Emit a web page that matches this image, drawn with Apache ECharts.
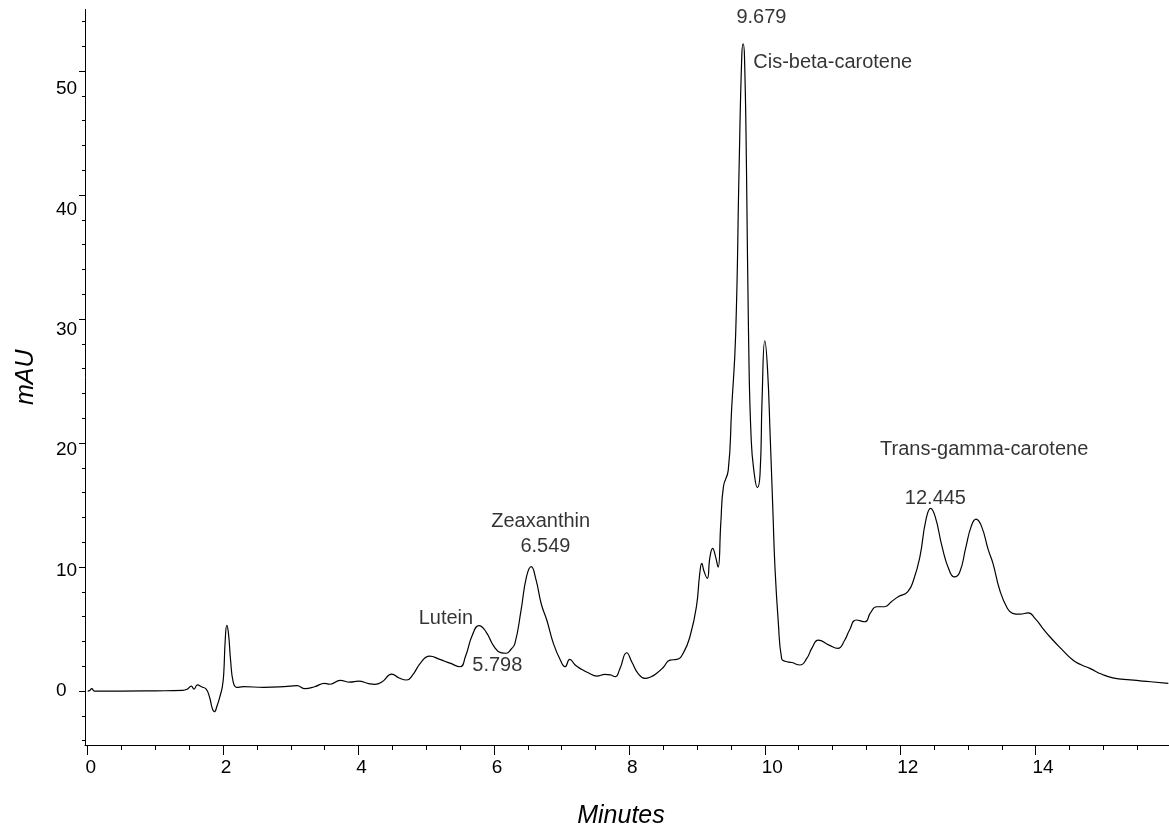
<!DOCTYPE html>
<html>
<head>
<meta charset="utf-8">
<script src="https://cdn.jsdelivr.net/npm/echarts@6/dist/echarts.min.js"></script>
<style>
html,body{margin:0;padding:0;background:#fff;}
#chart{width:1169px;height:832px;}
</style>
</head>
<body>
<div id="chart"></div>
<script>
// Retention time (minutes)
const timeMin = [0, 0.03, 0.06, 0.1, 0.5, 1.0, 1.4, 1.47, 1.53, 1.57, 1.62, 1.68, 1.75, 1.8, 1.84, 1.87, 1.91, 1.96, 1.99, 2.01, 2.03, 2.055, 2.08, 2.11, 2.15, 2.2, 2.3, 2.6, 2.9, 3.09, 3.21, 3.35, 3.5, 3.58, 3.73, 3.87, 4.0, 4.15, 4.24, 4.35, 4.49, 4.6, 4.71, 4.8, 4.92, 5.05, 5.2, 5.35, 5.5, 5.58, 5.68, 5.78, 5.88, 6.0, 6.1, 6.18, 6.25, 6.31, 6.4, 6.48, 6.55, 6.62, 6.7, 6.78, 6.88, 6.98, 7.05, 7.12, 7.2, 7.27, 7.4, 7.52, 7.64, 7.72, 7.79, 7.86, 7.96, 8.04, 8.13, 8.23, 8.32, 8.4, 8.5, 8.6, 8.7, 8.8, 8.9, 8.99, 9.04, 9.07, 9.1, 9.15, 9.19, 9.23, 9.27, 9.31, 9.35, 9.39, 9.46, 9.51, 9.57, 9.62, 9.66, 9.68, 9.7, 9.73, 9.76, 9.8, 9.85, 9.89, 9.93, 9.96, 10.0, 10.04, 10.08, 10.12, 10.15, 10.2, 10.25, 10.3, 10.4, 10.52, 10.62, 10.7, 10.79, 10.95, 11.08, 11.18, 11.25, 11.35, 11.48, 11.56, 11.65, 11.77, 11.87, 11.97, 12.11, 12.2, 12.29, 12.38, 12.45, 12.52, 12.62, 12.72, 12.8, 12.88, 12.97, 13.05, 13.12, 13.2, 13.3, 13.37, 13.47, 13.58, 13.66, 13.77, 13.89, 14.0, 14.1, 14.21, 14.38, 14.55, 14.68, 14.8, 14.98, 15.14, 15.4, 15.7, 15.96];
// Absorbance (mAU)
const absorbance = [0, 0.05, 0.2, 0.0, 0.0, 0.02, 0.05, 0.15, 0.4, 0.15, 0.5, 0.35, 0.15, -0.5, -1.4, -1.67, -1.2, -0.3, 0.4, 1.5, 4.0, 5.3, 4.6, 2.5, 0.7, 0.3, 0.35, 0.3, 0.35, 0.43, 0.2, 0.35, 0.62, 0.55, 0.86, 0.72, 0.8, 0.6, 0.54, 0.75, 1.37, 1.05, 0.89, 1.3, 2.3, 2.82, 2.55, 2.25, 1.96, 2.8, 4.5, 5.27, 4.8, 3.6, 3.1, 3.05, 3.35, 3.85, 6.5, 9.2, 10.03, 9.0, 7.0, 5.73, 3.8, 2.5, 1.96, 2.55, 2.1, 1.83, 1.45, 1.21, 1.34, 1.3, 1.16, 1.8, 3.09, 2.3, 1.4, 1.02, 1.15, 1.42, 1.9, 2.5, 2.55, 3.1, 4.5, 6.8, 9.5, 10.3, 9.7, 9.09, 10.8, 11.5, 10.9, 10.0, 13.5, 16.5, 17.8, 22.7, 28.8, 42, 51.2, 52.2, 51.2, 42, 28.8, 20.2, 17.3, 16.4, 17.5, 23.5, 28.25, 26, 20.5, 14.5, 10.0, 5.5, 2.6, 2.4, 2.3, 2.1, 2.63, 3.5, 4.11, 3.7, 3.44, 4.1, 4.9, 5.73, 5.59, 6.3, 6.8, 6.8, 7.2, 7.6, 8.0, 9.0, 10.8, 13.8, 14.73, 14.0, 11.6, 9.8, 9.2, 9.6, 11.6, 13.3, 13.87, 13.3, 11.4, 10.3, 8.15, 6.7, 6.27, 6.2, 6.3, 5.8, 5.1, 4.38, 3.4, 2.5, 2.1, 1.83, 1.35, 1.07, 0.9, 0.75, 0.62];

// Tick values
const xTickValues = [0, 2, 4, 6, 8, 10, 12, 14];
const xMinorTickValues = [0.5, 1, 1.5, 2.5, 3, 3.5, 4.5, 5, 5.5, 6.5, 7, 7.5, 8.5, 9, 9.5, 10.5, 11, 11.5, 12.5, 13, 13.5, 14.5, 15, 15.5];
const yTickValues = [0, 10, 20, 30, 40, 50];
const yMinorTickValues = [-4, -2, 2, 4, 6, 8, 12, 14, 16, 18, 22, 24, 26, 28, 32, 34, 36, 38, 42, 44, 46, 48, 52, 54];

// Peak annotations (text, anchor in data units)
const annoText = ['9.679', 'Cis-beta-carotene', 'Zeaxanthin', '6.549', 'Lutein', '5.798', 'Trans-gamma-carotene', '12.445'];
const annoX = [9.95, 9.83, 6.69, 6.76, 5.29, 6.05, 13.24, 12.52];
const annoY = [54.35, 50.65, 13.65, 11.64, 5.89, 2.04, 19.44, 15.56];
const annoAlign = ['center', 'left', 'center', 'center', 'center', 'center', 'center', 'center'];

const FONT = "'Liberation Sans', Arial, Helvetica, sans-serif";
const X_MIN = -0.04, X_MAX = 15.97;
const Y_MIN = -4.35, Y_MAX = 54.96;

const chart = echarts.init(document.getElementById('chart'), null, {renderer: 'canvas'});

const lineData = timeMin.map((t, i) => [t, absorbance[i]]);
const annoData = annoText.map((s, i) => ({
  value: [annoX[i], annoY[i]],
  label: {formatter: s, align: annoAlign[i]}
}));

const option = {
  animation: false,
  backgroundColor: '#fff',
  grid: {left: 85, right: 0, top: 9.5, bottom: 87, containLabel: false, outerBoundsMode: 'none'},
  xAxis: [
    {
      type: 'value', min: X_MIN, max: X_MAX, position: 'bottom',
      name: 'Minutes', nameLocation: 'middle', nameGap: 59,
      nameTextStyle: {fontFamily: FONT, fontSize: 25, fontStyle: 'italic', color: '#000', padding: [0, 12, 0, 0]},
      axisLine: {show: true, onZero: false, lineStyle: {color: '#000', width: 1}},
      axisTick: {show: true, customValues: xTickValues, length: 10, lineStyle: {color: '#000', width: 1}},
      axisLabel: {
        show: true, customValues: xTickValues, margin: 13,
        fontFamily: FONT, fontSize: 19, color: '#000',
        formatter: function (v) { return (v >= 10 ? '{b|' : '{a|') + v + '}'; },
        rich: {
          a: {fontFamily: FONT, fontSize: 19, color: '#000', padding: [0, 0, 0, 6]},
          b: {fontFamily: FONT, fontSize: 19, color: '#000', padding: [0, 0, 0, 15]}
        }
      },
      splitLine: {show: false}
    },
    {
      type: 'value', min: X_MIN, max: X_MAX, position: 'bottom', offset: 0,
      axisLine: {show: false, onZero: false},
      axisTick: {show: true, customValues: xMinorTickValues, length: 5, lineStyle: {color: '#000', width: 1}},
      axisLabel: {show: false},
      splitLine: {show: false}
    }
  ],
  yAxis: [
    {
      type: 'value', min: Y_MIN, max: Y_MAX, position: 'left', offset: 0,
      name: 'mAU', nameLocation: 'middle', nameGap: 46,
      nameTextStyle: {fontFamily: FONT, fontSize: 25, fontStyle: 'italic', color: '#000'},
      axisLine: {show: true, onZero: false, lineStyle: {color: '#000', width: 1}},
      axisTick: {show: true, customValues: yTickValues, length: 6, lineStyle: {color: '#000', width: 1}},
      axisLabel: {show: false},
      splitLine: {show: false}
    },
    {
      type: 'value', min: Y_MIN, max: Y_MAX, position: 'left', offset: 0,
      axisLine: {show: false, onZero: false},
      axisTick: {show: true, customValues: yMinorTickValues, length: 3, lineStyle: {color: '#000', width: 1}},
      axisLabel: {show: false},
      splitLine: {show: false}
    },
    {
      // label-only axis: labels in the reference are spaced slightly tighter than the ticks
      type: 'value', min: -4.485, max: 56.6, position: 'left', offset: 0,
      axisLine: {show: false, onZero: false},
      axisTick: {show: false},
      axisLabel: {show: true, customValues: yTickValues, align: 'left', margin: 29, fontFamily: FONT, fontSize: 19, color: '#000'},
      splitLine: {show: false}
    }
  ],
  series: [
    {
      type: 'line', xAxisIndex: 0, yAxisIndex: 0,
      data: lineData, showSymbol: false, symbol: 'none',
      smooth: 0.5,
      lineStyle: {color: '#000', width: 1.2},
      silent: true
    },
    {
      type: 'scatter', xAxisIndex: 0, yAxisIndex: 0,
      data: annoData, symbolSize: 0, silent: true,
      itemStyle: {color: 'rgba(0,0,0,0)'},
      label: {show: true, position: 'inside', fontFamily: FONT, fontSize: 20, color: '#000', verticalAlign: 'middle'}
    }
  ]
};
chart.setOption(option);
</script>
</body>
</html>
